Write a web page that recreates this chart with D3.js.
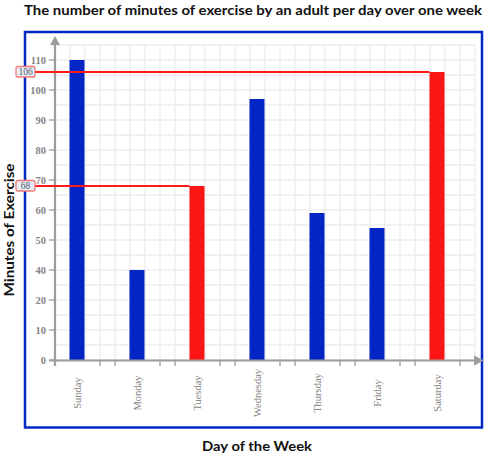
<!DOCTYPE html>
<html><head><meta charset="utf-8">
<script src="https://cdn.jsdelivr.net/npm/d3@7"></script>
<style>body{margin:0;background:#fff}svg{display:block}</style>
</head><body>
<script>
const days = ["Sunday","Monday","Tuesday","Wednesday","Thursday","Friday","Saturday"];
const minutes = [110, 40, 68, 97, 59, 54, 106];
const highlighted = ["Tuesday","Saturday"];
const yTickLabels = [0,10,20,40,50,60,70,80,90,100,110];
const refValues = [106, 68];
const refDays = ["Saturday","Tuesday"];

const W = 485, H = 455;
const svg = d3.select("body").append("svg").attr("width", W).attr("height", H);

const plotL = 55, plotR = 475, plotT = 45, plotB = 360;
// axis labels are evenly spaced although 30 is skipped, so the scale is piecewise
const y = d3.scaleLinear().domain([0, 20, 40, 115]).range([plotB, plotB - 60, plotB - 90, plotT]);
const x = d3.scaleBand().domain(days).range([plotL, 460]).paddingInner(0.25).paddingOuter(0);

// frame
svg.append("rect").attr("x", 25).attr("y", 32).attr("width", 457).attr("height", 395.5)
  .attr("fill", "none").attr("stroke", "#0328c6").attr("stroke-width", 2.5);

// grid
const g = svg.append("g");
d3.range(plotL, plotR + 1, 15).forEach(px => {
  g.append("line").attr("x1", px).attr("x2", px).attr("y1", plotT).attr("y2", plotB)
    .attr("stroke", "#ececec").attr("stroke-width", 1.3);
});
d3.range(plotB, plotT - 1, -15).forEach(py => {
  g.append("line").attr("x1", plotL).attr("x2", plotR).attr("y1", py).attr("y2", py)
    .attr("stroke", "#ececec").attr("stroke-width", 1.3);
});

// bars
const bw = 15;
svg.selectAll("rect.bar").data(days).join("rect").attr("class", "bar")
  .attr("x", d => x(d) + x.bandwidth() / 2 - 8)
  .attr("width", bw)
  .attr("y", (d, i) => y(minutes[i]))
  .attr("height", (d, i) => plotB - y(minutes[i]))
  .attr("fill", d => highlighted.includes(d) ? "#fe1616" : "#0325c5");

// axes
const axisCol = "#9c9c9c";
svg.append("line").attr("x1", plotL).attr("x2", plotL).attr("y1", 366).attr("y2", 44)
  .attr("stroke", axisCol).attr("stroke-width", 2.2);
svg.append("path").attr("d", `M${plotL - 5},45 L${plotL},36 L${plotL + 5},45 Z`).attr("fill", axisCol);
svg.append("line").attr("x1", 49).attr("x2", 475).attr("y1", plotB + 0.5).attr("y2", plotB + 0.5)
  .attr("stroke", axisCol).attr("stroke-width", 2.2);
svg.append("path").attr("d", `M474,${plotB + 0.5 - 5} L484,${plotB + 0.5} L474,${plotB + 0.5 + 5} Z`).attr("fill", axisCol);

// y ticks
const yAxis = svg.append("g");
yTickLabels.forEach(v => {
  yAxis.append("line").attr("x1", 49).attr("x2", plotL).attr("y1", y(v)).attr("y2", y(v))
    .attr("stroke", axisCol).attr("stroke-width", 1.3);
  yAxis.append("text").attr("x", 46).attr("y", y(v)).attr("dy", "0.35em")
    .attr("text-anchor", "end").attr("font-family", "Liberation Serif, serif")
    .attr("font-weight", "bold").attr("font-size", 10.5).attr("fill", "#858585").text(v);
});

// x ticks and labels
days.forEach(d => {
  [x(d), x(d) + x.bandwidth()].forEach(px => {
    svg.append("line").attr("x1", px).attr("x2", px).attr("y1", plotB).attr("y2", plotB + 6)
      .attr("stroke", axisCol).attr("stroke-width", 1.3);
  });
  const cx = x(d) + x.bandwidth() / 2 - 0.5;
  svg.append("text").attr("transform", `translate(${cx},393) rotate(-90)`)
    .attr("text-anchor", "middle").attr("dy", "0.35em")
    .attr("font-family", "Liberation Serif, serif").attr("font-size", 10.5)
    .attr("fill", "#858585").text(d);
});

// reference lines
refValues.forEach((v, i) => {
  const yy = y(v);
  svg.append("line").attr("x1", 35).attr("x2", x(refDays[i]) + x.bandwidth() / 2 - 8)
    .attr("y1", yy).attr("y2", yy).attr("stroke", "#fe1a1a").attr("stroke-width", 2);
  svg.append("rect").attr("x", 16).attr("y", yy - 5.5).attr("width", 19).attr("height", 10.5)
    .attr("rx", 2).attr("fill", "#e9eef6").attr("stroke", "#f07a7a").attr("stroke-width", 1.3);
  svg.append("text").attr("x", 25.5).attr("y", yy).attr("dy", "0.35em").attr("text-anchor", "middle")
    .attr("font-family", "Liberation Serif, serif").attr("font-size", 9.5).attr("fill", "#4f5868").text(v);
});

// titles
svg.append("text").attr("x", 253).attr("y", 14.5).attr("text-anchor", "middle")
  .attr("font-family", "Lato, sans-serif").attr("font-weight", "bold").attr("font-size", 14)
  .attr("textLength", 458).attr("lengthAdjust", "spacingAndGlyphs")
  .attr("fill", "#111").text("The number of minutes of exercise by an adult per day over one week");
svg.append("text").attr("transform", "translate(14,230) rotate(-90)").attr("text-anchor", "middle")
  .attr("font-family", "Lato, sans-serif").attr("font-weight", "bold").attr("font-size", 14)
  .attr("textLength", 133).attr("lengthAdjust", "spacingAndGlyphs")
  .attr("fill", "#111").text("Minutes of Exercise");
svg.append("text").attr("x", 257).attr("y", 451).attr("text-anchor", "middle")
  .attr("font-family", "Lato, sans-serif").attr("font-weight", "bold").attr("font-size", 14)
  .attr("textLength", 110).attr("lengthAdjust", "spacingAndGlyphs")
  .attr("fill", "#111").text("Day of the Week");
</script>
</body></html>
